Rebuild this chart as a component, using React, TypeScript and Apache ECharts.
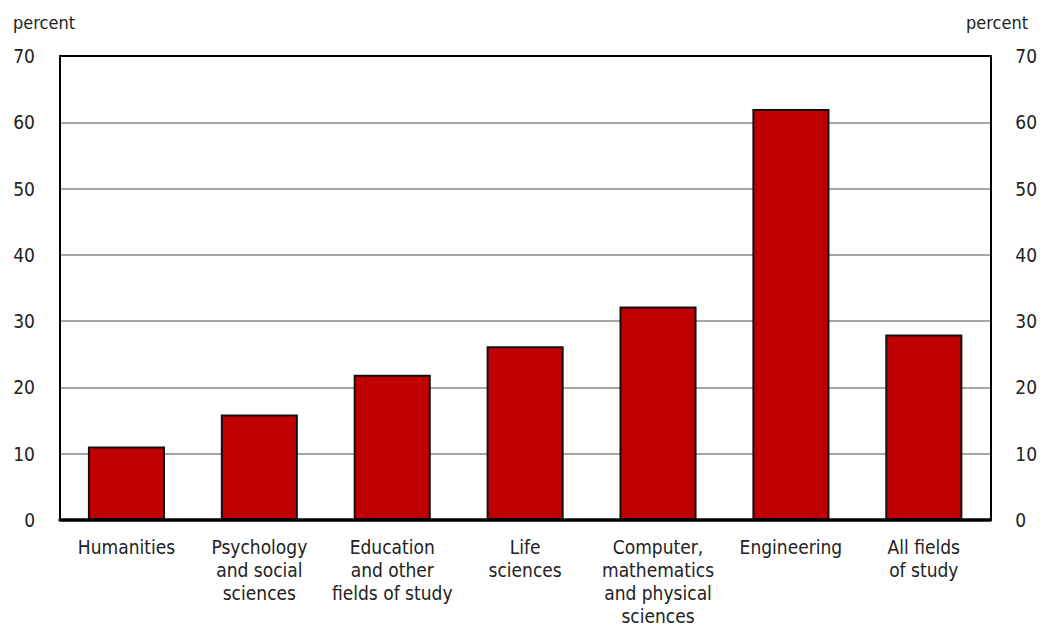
import React, { useEffect, useRef } from "react";
import * as echarts from "echarts";

const categories = [
  "Humanities",
  "Psychology\nand social\nsciences",
  "Education\nand other\nfields of study",
  "Life\nsciences",
  "Computer,\nmathematics\nand physical\nsciences",
  "Engineering",
  "All fields\nof study",
];
const values = [11.1, 15.9, 21.9, 26.2, 32.2, 62.0, 28.0];
const yTicks = { min: 0, max: 70, interval: 10 };
const unitLabel = "percent";

const FONT = "'Liberation Sans Narrow', 'DejaVu Sans Condensed', 'Roboto', sans-serif";
const TXT = "#222222";

export default function App() {
  const ref = useRef<HTMLDivElement>(null);
  useEffect(() => {
    if (!ref.current) return;
    const chart = echarts.init(ref.current, undefined, { renderer: "svg" });
    const yAxisBase = {
      type: "value" as const,
      min: yTicks.min,
      max: yTicks.max,
      interval: yTicks.interval,
      axisTick: { show: false },
      axisLine: { show: true, onZero: false, lineStyle: { color: "#000", width: 2 } },
      axisLabel: { color: TXT, fontSize: 19, fontFamily: FONT, margin: 25, padding: [6, 0, 0, 0] },
    };
    chart.setOption({
      animation: false,
      textStyle: { fontFamily: FONT },
      grid: {
        left: 60,
        right: 48,
        top: 56,
        bottom: 110,
        show: false,
        containLabel: false,
      },
      graphic: [
        { type: "text", left: 13, top: 13, style: { text: unitLabel, fontSize: 18, fontFamily: FONT, fill: TXT } },
        { type: "text", right: 12, top: 13, style: { text: unitLabel, fontSize: 18, fontFamily: FONT, fill: TXT } },
      ],
      xAxis: [
        {
          type: "category",
          data: categories,
          axisTick: { show: false },
          axisLine: { show: true, onZero: false, lineStyle: { color: "#000", width: 3.5 } },
          axisLabel: {
            color: TXT,
            fontSize: 19,
            fontFamily: FONT,
            lineHeight: 23,
            margin: 15,
            interval: 0,
            verticalAlign: "top",
          },
          z: 20,
        },
        {
          type: "category",
          data: categories,
          position: "top",
          axisTick: { show: false },
          axisLabel: { show: false },
          axisLine: { show: true, onZero: false, lineStyle: { color: "#000", width: 2 } },
          z: 20,
        },
      ],
      yAxis: [
        {
          ...yAxisBase,
          position: "left",
          z: 1,
          splitLine: { show: true, lineStyle: { color: "#a6a6a6", width: 2 } },
        },
        {
          ...yAxisBase,
          position: "right",
          z: 20,
          splitLine: { show: false },
          axisLabel: { ...yAxisBase.axisLabel, align: "left" },
        },
      ],
      series: [
        {
          type: "bar",
          data: values,
          barWidth: "58%",
          z: 5,
          itemStyle: { color: "#c00000", borderColor: "#111", borderWidth: 2 },
        },
      ],
    });
    return () => chart.dispose();
  }, []);
  return (
    <div
      ref={ref}
      style={{ position: "fixed", left: 0, top: 0, width: 1040, height: 630, background: "#fff" }}
    />
  );
}
